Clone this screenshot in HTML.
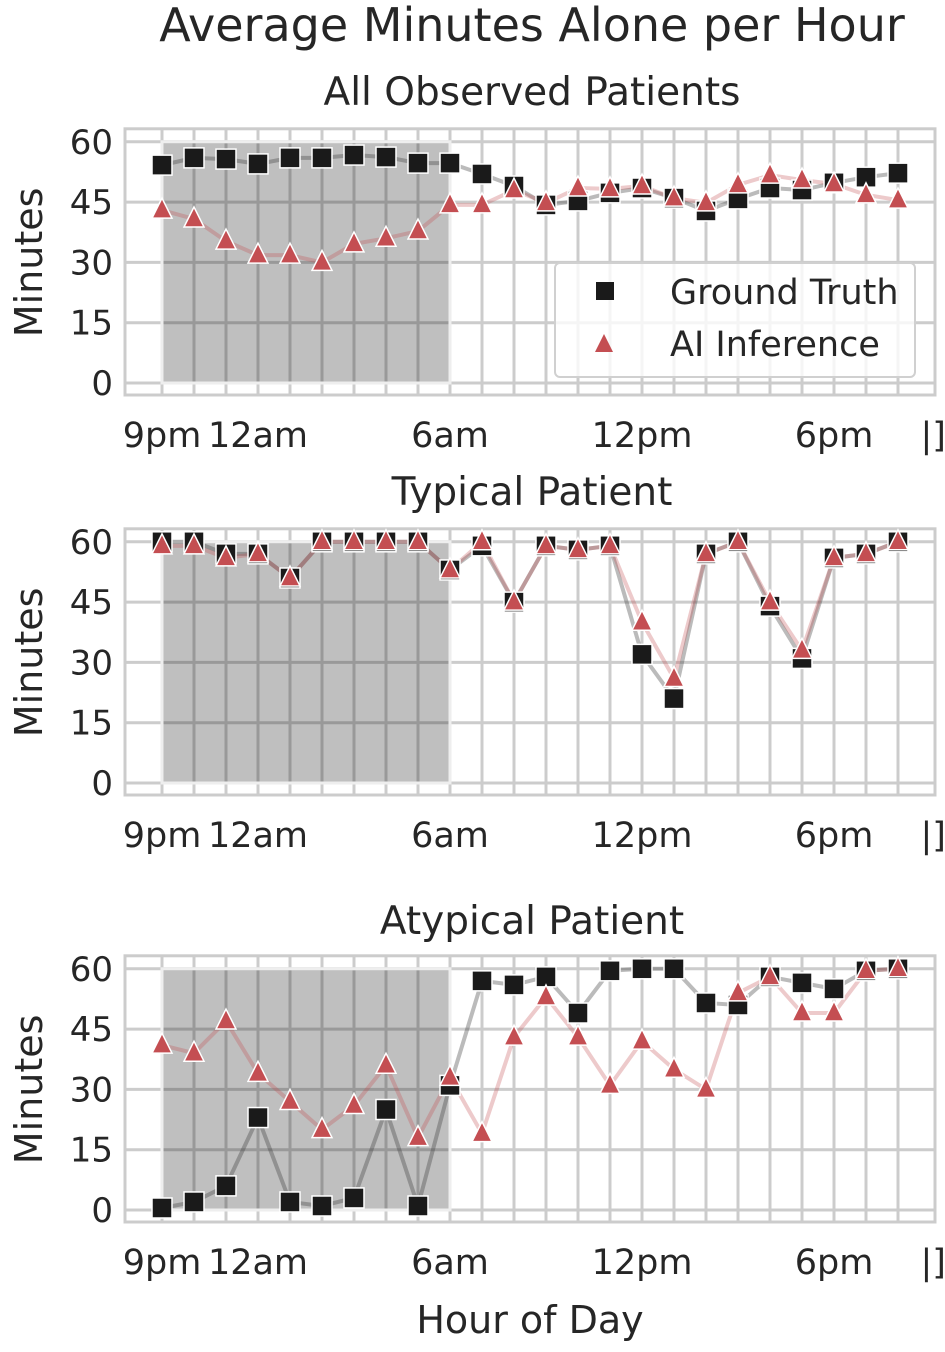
<!DOCTYPE html>
<html><head><meta charset="utf-8"><style>
body{margin:0;background:#fff}
text{font-family:"DejaVu Sans","Liberation Sans",sans-serif;fill:#262626}
</style></head><body>
<svg id="c" width="945" height="1347" viewBox="0 0 945 1347" xmlns="http://www.w3.org/2000/svg">
<text x="532" y="41" font-size="46" text-anchor="middle">Average Minutes Alone per Hour</text>
<text x="530" y="1333" font-size="38" text-anchor="middle">Hour of Day</text>
</svg>
<script>
const hours = ["9pm","10pm","11pm","12am","1am","2am","3am","4am","5am","6am","7am","8am","9am","10am","11am","12pm","1pm","2pm","3pm","4pm","5pm","6pm","7pm","8pm"];
const xTickLabels = ["9pm","12am","6am","12pm","6pm","|]"];
const xTickHours = [0,3,9,15,21,24.1];
const yTicks = [0,15,30,45,60];
const panelTitles = ["All Observed Patients","Typical Patient","Atypical Patient"];
const gtAll = [54.2,56,55.7,54.5,56,56,56.7,56.2,54.7,54.7,52,49,44.3,45.3,47.3,48.5,46,42.8,45.8,48.5,48,49.8,51.2,52.2];
const aiAll = [43,40.8,35.3,31.8,31.8,30,34.6,36,37.8,44.3,44.3,48,44.8,48.5,48.3,49,46,44.8,49.3,51.7,50.5,49.5,46.8,45.5];
const gtTyp = [60,60,57,57,51,60,60,60,60,53,59,45,59,58,59,32,21,57,60,44,31,56,57,60];
const aiTyp = [59,59,56,57,51,60,60,60,60,53,60,45,59,58,59,40,26,57,60,45,33,56,57,60];
const gtAty = [0.5,2,6,23,2,1,3,25,1,31,57,56,58,49,59.5,60,60,51.5,51,58,56.5,55,59.5,60];
const aiAty = [41,39,47,34,27,20,26,36,18,33,19,43,53,43,31,42,35,30,54,58,49,49,59.5,60];
const seriesGT = [gtAll,gtTyp,gtAty];
const seriesAI = [aiAll,aiTyp,aiAty];
const nightStart = 0, nightEnd = 9;

const svg = document.getElementById('c');
const NS = 'http://www.w3.org/2000/svg';
function mk(tag, attrs, parent){const e=document.createElementNS(NS,tag);for(const k in attrs)e.setAttribute(k,attrs[k]);(parent||svg).appendChild(e);return e;}
const panels = [{y0:383,title:91,tick:447},{y0:783,title:491,tick:847},{y0:1210,title:920,tick:1274}];
const xs = h => 162 + h*32;
panels.forEach((p,i)=>{
  const ys = v => p.y0 - v*4.02;
  const g = mk('g',{});
  
  
  const t = mk('text',{x:532,y:p.title+14,'font-size':39,'text-anchor':'middle'},g);
  t.textContent = panelTitles[i];
  
  
  const top = ys(60)-13, bot = p.y0+12;
  const fr = mk('rect',{x:125,y:top,width:810,height:bot-top,fill:'none',stroke:'#cccccc','stroke-width':3},g);
  
  
  for(let h=0;h<24;h++){const l=mk('line',{x1:xs(h),x2:xs(h),y1:top,y2:bot,stroke:'#cccccc','stroke-width':3},g);
    
    }
  yTicks.forEach(v=>{const l=mk('line',{x1:125,x2:935,y1:ys(v),y2:ys(v),stroke:'#cccccc','stroke-width':3},g);
    
    
    const tt=mk('text',{x:113,y:ys(v)+12,'font-size':34,'text-anchor':'end'},g);tt.textContent=v;
    
    });
  xTickLabels.forEach((s,k)=>{const tt=mk('text',{x:xs(xTickHours[k]),y:p.tick,'font-size':35,'text-anchor':'middle'},g);tt.textContent=s;
    
    });
  const yl=mk('text',{x:0,y:0,'font-size':38,'text-anchor':'middle',transform:`translate(42,${ys(30)}) rotate(-90)`},g);yl.textContent='Minutes';
  
  
  const sh=mk('rect',{x:xs(nightStart),y:ys(60),width:xs(nightEnd)-xs(nightStart),height:ys(0)-ys(60),fill:'rgba(0,0,0,0.25)',stroke:'#eeeeee','stroke-width':3},g);
  
  
  const gt=seriesGT[i], ai=seriesAI[i];
  const l1=mk('polyline',{points:gt.map((v,h)=>xs(h)+','+ys(v)).join(' '),fill:'none',stroke:'rgba(60,60,60,0.35)','stroke-width':4},g);
  
  
  const l2=mk('polyline',{points:ai.map((v,h)=>xs(h)+','+ys(v)).join(' '),fill:'none',stroke:'rgba(196,78,82,0.3)','stroke-width':4},g);
  
  
  gt.forEach((v,h)=>{const r=mk('rect',{x:xs(h)-10,y:ys(v)-10,width:20,height:20,fill:'#1a1a1a',stroke:'#fff','stroke-width':1.5},g);
    
    });
  ai.forEach((v,h)=>{const x=xs(h),y=ys(v);const r=mk('polygon',{points:`${x},${y-12} ${x+10},${y+8} ${x-10},${y+8}`,fill:'#c44e52',stroke:'#fff','stroke-width':1.5},g);
    
    });
  if(i===0){
    const lg=mk('g',{},g);
    
    
    mk('rect',{x:555,y:263,width:360,height:114,rx:5,fill:'rgba(255,255,255,0.8)',stroke:'#d0d0d0','stroke-width':2},lg);
    mk('rect',{x:596,y:282,width:18,height:18,fill:'#1a1a1a'},lg);
    mk('polygon',{points:'604,334 613,352 595,352',fill:'#c44e52'},lg);
    const a=mk('text',{x:670,y:304,'font-size':35},lg);a.textContent='Ground Truth';
    
    
    const b=mk('text',{x:670,y:356,'font-size':35},lg);b.textContent='AI Inference';
    
    
  }
});
</script>
</body></html>
